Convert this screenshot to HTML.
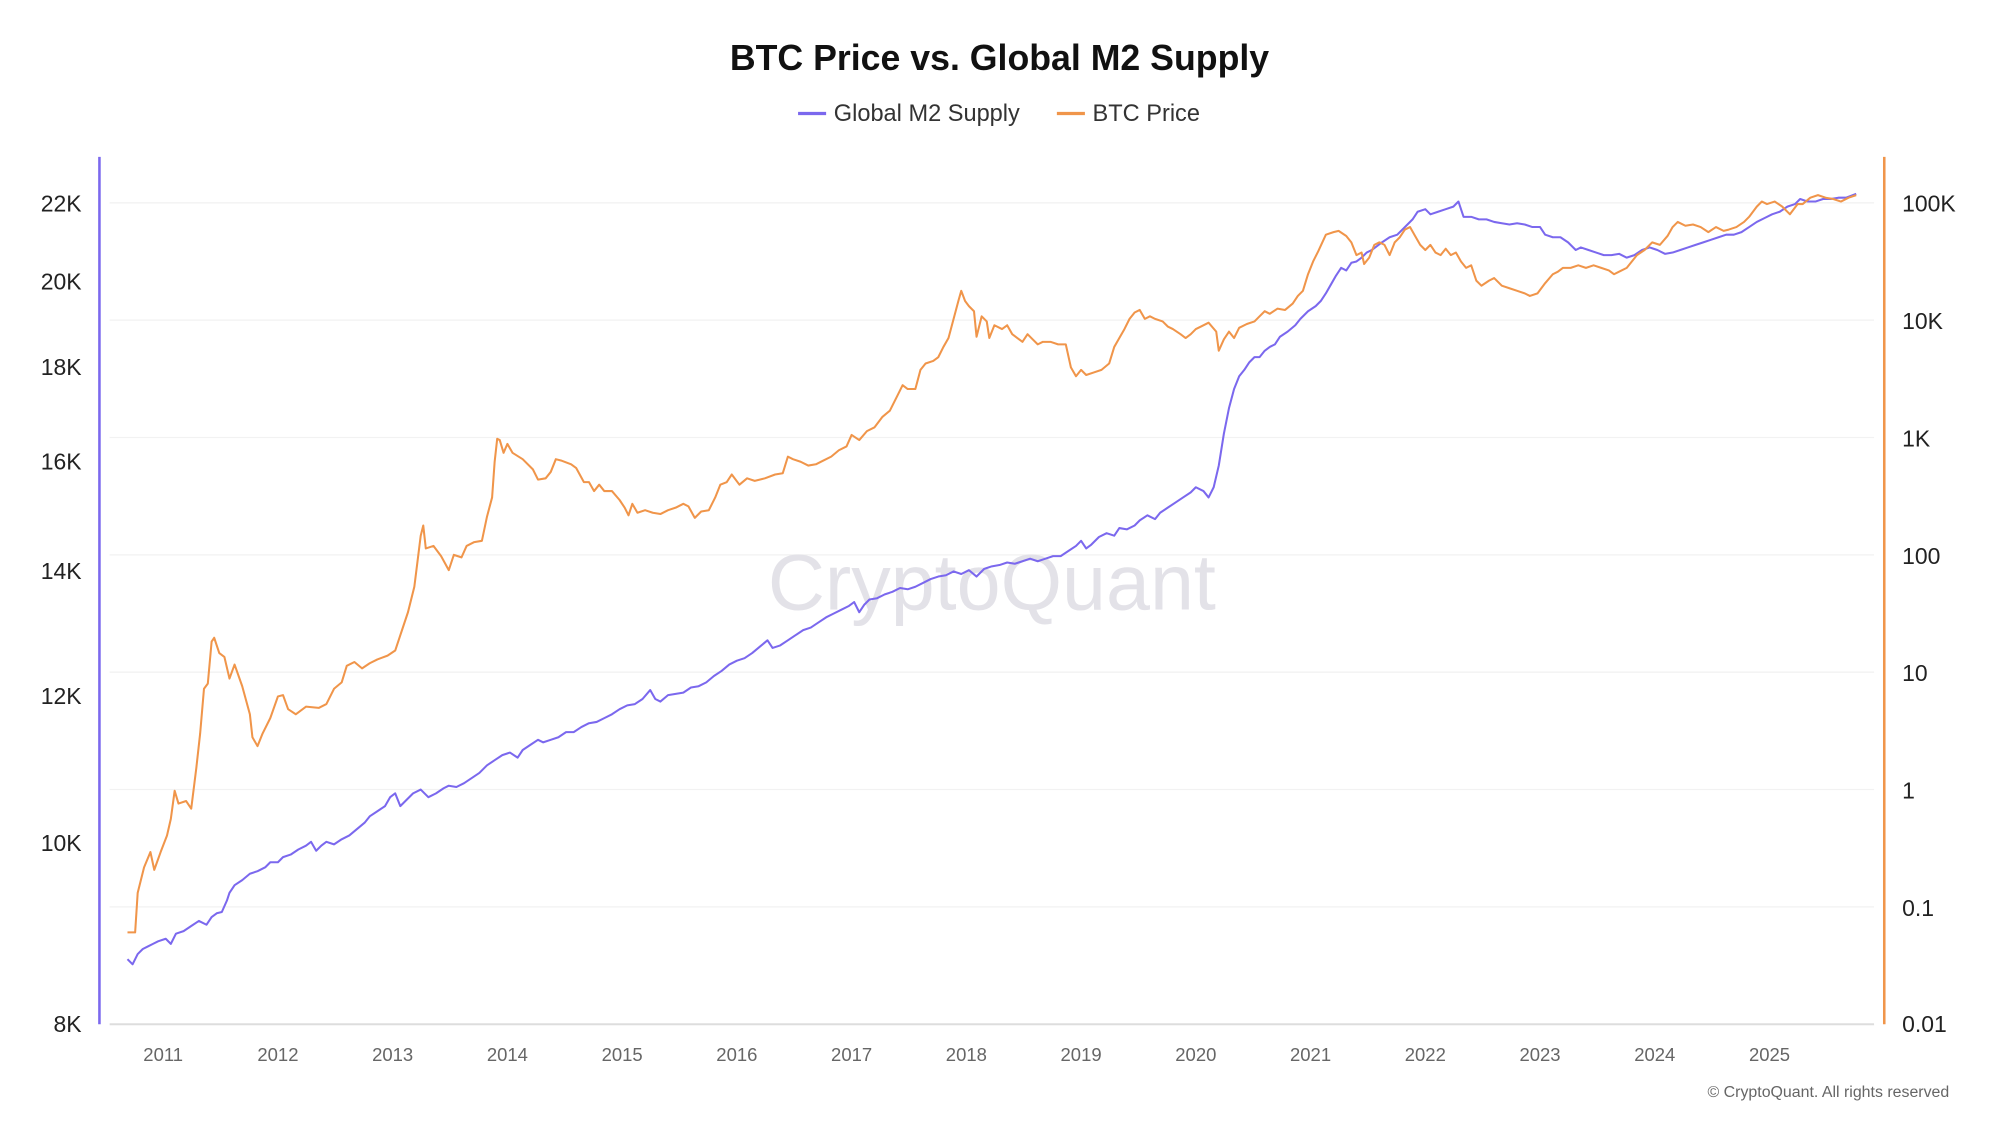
<!DOCTYPE html>
<html><head><meta charset="utf-8"><style>
html,body{margin:0;padding:0;background:#fff;}
svg{display:block;font-family:"Liberation Sans",Arial,sans-serif;}
</style></head><body>
<svg width="1999" height="1125" viewBox="0 0 1568 882" preserveAspectRatio="none" xmlns="http://www.w3.org/2000/svg">
<rect width="1568" height="882" fill="#fff"/>
<text x="784" y="55" text-anchor="middle" font-size="28" font-weight="bold" fill="#111">BTC Price vs. Global M2 Supply</text>
<line x1="626" y1="89" x2="648" y2="89" stroke="#7b68ee" stroke-width="2.5"/>
<text x="654" y="95" font-size="18.5" fill="#333">Global M2 Supply</text>
<line x1="829" y1="89" x2="851" y2="89" stroke="#f0954a" stroke-width="2.5"/>
<text x="857" y="95" font-size="18.5" fill="#333">BTC Price</text>
<g stroke="#f2f2f2" stroke-width="1">
<line x1="86" y1="159" x2="1470" y2="159"/><line x1="86" y1="251" x2="1470" y2="251"/>
<line x1="86" y1="343" x2="1470" y2="343"/><line x1="86" y1="435" x2="1470" y2="435"/>
<line x1="86" y1="527" x2="1470" y2="527"/><line x1="86" y1="619" x2="1470" y2="619"/>
<line x1="86" y1="711" x2="1470" y2="711"/>
</g>
<line x1="86" y1="803" x2="1470" y2="803" stroke="#ddd" stroke-width="1.5"/>
<line x1="78" y1="123" x2="78" y2="803" stroke="#7b68ee" stroke-width="2"/>
<line x1="1478" y1="123" x2="1478" y2="803" stroke="#f0954a" stroke-width="2"/>
<g font-size="18" fill="#222" text-anchor="end">
<text x="64" y="166">22K</text><text x="64" y="227">20K</text><text x="64" y="294">18K</text>
<text x="64" y="368">16K</text><text x="64" y="454">14K</text><text x="64" y="552">12K</text>
<text x="64" y="667">10K</text><text x="64" y="809">8K</text>
</g>
<g font-size="18" fill="#222">
<text x="1492" y="166">100K</text><text x="1492" y="258">10K</text><text x="1492" y="350">1K</text>
<text x="1492" y="442">100</text><text x="1492" y="534">10</text><text x="1492" y="626">1</text>
<text x="1492" y="718">0.1</text><text x="1492" y="809">0.01</text>
</g>
<g font-size="14.5" fill="#666" text-anchor="middle">
<text x="128" y="832">2011</text><text x="218" y="832">2012</text><text x="308" y="832">2013</text>
<text x="398" y="832">2014</text><text x="488" y="832">2015</text><text x="578" y="832">2016</text>
<text x="668" y="832">2017</text><text x="758" y="832">2018</text><text x="848" y="832">2019</text>
<text x="938" y="832">2020</text><text x="1028" y="832">2021</text><text x="1118" y="832">2022</text>
<text x="1208" y="832">2023</text><text x="1298" y="832">2024</text><text x="1388" y="832">2025</text>
</g>
<text x="778" y="478" text-anchor="middle" font-size="62" fill="#e3e2e8">CryptoQuant</text>
<text x="1529" y="860" text-anchor="end" font-size="12.5" fill="#666">© CryptoQuant. All rights reserved</text>
<polyline fill="none" stroke="#7b68ee" stroke-width="1.6" stroke-linejoin="round" points="100,752 104,756 108,748 112,744 116,742 120,740 124,738 130,736 134,740 138,732 144,730 150,726 156,722 162,725 166,719 170,716 174,715 178,706 180,700 184,694 190,690 196,685 202,683 208,680 212,676 218,676 222,672 228,670 234,666 240,663 244,660 248,667 252,663 256,660 262,662 268,658 274,655 280,650 286,645 290,640 296,636 302,632 306,625 310,622 314,632 318,628 324,622 330,619 336,625 342,622 348,618 352,616 358,617 364,614 370,610 376,606 382,600 388,596 394,592 400,590 406,594 410,588 416,584 422,580 426,582 432,580 438,578 444,574 450,574 456,570 462,567 468,566 474,563 480,560 486,556 492,553 498,552 504,548 510,541 514,548 518,550 524,545 530,544 536,543 542,539 548,538 554,535 560,530 566,526 572,521 578,518 584,516 590,512 596,507 602,502 606,508 612,506 618,502 624,498 630,494 636,492 642,488 648,484 654,481 660,478 666,475 670,472 674,480 678,474 682,470 688,469 694,466 700,464 706,461 712,462 718,460 724,457 730,454 736,452 742,451 748,448 754,450 760,447 766,452 772,446 778,444 784,443 790,441 796,442 802,440 808,438 814,440 820,438 826,436 832,436 838,432 844,428 848,424 852,430 856,427 862,421 868,418 874,420 878,414 884,415 890,412 894,408 900,404 906,407 910,402 916,398 922,394 928,390 934,386 938,382 944,385 948,390 952,382 956,365 960,340 964,320 968,305 972,295 976,290 980,284 984,280 988,280 992,275 996,272 1000,270 1004,264 1010,260 1016,255 1020,250 1026,244 1032,240 1036,236 1040,230 1044,223 1048,216 1052,210 1056,212 1060,206 1064,205 1068,202 1072,198 1076,196 1080,193 1084,190 1090,186 1096,184 1100,180 1104,176 1108,172 1112,166 1118,164 1122,168 1128,166 1134,164 1140,162 1144,158 1148,170 1154,170 1160,172 1166,172 1172,174 1178,175 1184,176 1190,175 1196,176 1202,178 1208,178 1212,184 1218,186 1224,186 1230,190 1236,196 1240,194 1246,196 1252,198 1258,200 1264,200 1270,199 1276,202 1282,200 1288,196 1294,194 1300,196 1306,199 1312,198 1318,196 1324,194 1330,192 1336,190 1342,188 1348,186 1354,184 1360,184 1366,182 1372,178 1378,174 1384,171 1390,168 1396,166 1402,162 1408,160 1412,156 1418,158 1424,158 1430,156 1436,156 1442,155 1448,155 1456,152"/>
<polyline fill="none" stroke="#f0954a" stroke-width="1.6" stroke-linejoin="round" points="100,731 106,731 108,700 113,680 118,668 121,682 126,668 131,655 134,642 137,620 140,630 146,628 150,634 154,602 157,575 160,540 163,536 166,503 168,500 172,512 176,515 180,532 184,521 190,538 196,560 198,578 202,585 206,575 212,563 218,546 222,545 226,556 232,560 240,554 250,555 256,552 262,540 268,535 272,522 278,519 284,524 290,520 296,517 304,514 310,510 315,495 320,480 325,460 330,420 332,412 334,430 340,428 346,436 352,447 356,435 362,437 366,428 372,425 378,424 382,405 386,390 388,362 390,344 392,345 395,355 398,348 402,355 410,360 418,368 422,376 428,375 432,370 436,360 440,361 448,364 452,367 458,378 462,378 466,385 470,380 474,385 480,385 486,392 490,398 493,404 496,395 500,402 506,400 512,402 518,403 524,400 530,398 536,395 540,397 545,406 550,401 556,400 561,390 565,380 570,378 574,372 580,380 586,375 592,377 600,375 608,372 614,371 618,358 622,360 628,362 634,365 640,364 646,361 652,358 658,353 664,350 668,341 674,345 680,338 686,335 692,327 698,322 704,310 708,302 712,305 718,305 722,290 726,285 732,283 736,280 740,272 744,265 748,250 752,235 754,228 757,236 760,240 764,244 766,264 770,248 774,252 776,265 780,255 786,258 790,255 794,262 798,265 802,268 806,262 810,266 814,270 818,268 824,268 830,270 836,270 840,288 844,295 848,290 852,294 858,292 864,290 870,285 874,272 878,265 882,258 886,250 890,245 894,243 898,250 902,248 906,250 912,252 916,256 920,258 926,262 930,265 934,262 938,258 942,256 948,253 954,260 956,275 960,266 964,260 968,265 972,257 978,254 984,252 988,248 992,244 996,246 1002,242 1008,243 1014,238 1018,232 1022,228 1026,215 1030,205 1034,197 1040,184 1046,182 1050,181 1056,185 1060,190 1064,200 1068,198 1070,207 1074,202 1078,192 1082,190 1086,192 1090,200 1094,190 1098,186 1102,180 1106,178 1110,185 1114,192 1118,196 1122,192 1126,198 1130,200 1134,195 1138,200 1142,198 1146,205 1150,210 1154,208 1158,220 1162,224 1168,220 1172,218 1178,224 1184,226 1190,228 1196,230 1200,232 1206,230 1212,222 1218,215 1222,213 1226,210 1232,210 1238,208 1244,210 1250,208 1256,210 1262,212 1266,215 1270,213 1276,210 1280,205 1284,200 1290,196 1296,190 1302,192 1308,185 1312,178 1316,174 1322,177 1328,176 1334,178 1340,182 1346,178 1352,181 1356,180 1362,178 1368,174 1372,170 1378,162 1382,158 1386,160 1392,158 1398,162 1404,168 1410,160 1414,160 1420,155 1426,153 1432,155 1438,156 1444,158 1450,155 1456,153"/>
</svg>
</body></html>
